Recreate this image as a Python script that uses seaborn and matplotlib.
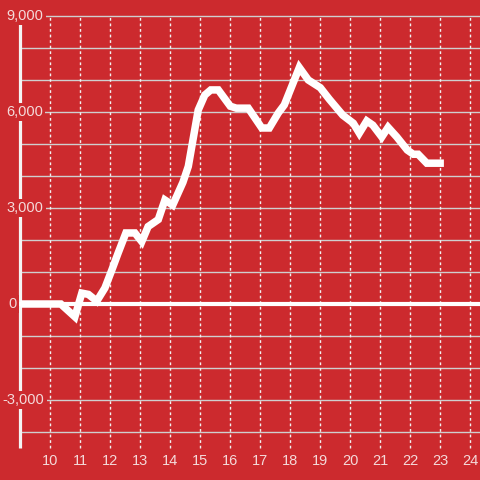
import matplotlib
matplotlib.use("Agg")
import matplotlib.pyplot as plt
import seaborn as sns
import pandas as pd

# ---- data ----
hours = [9.0, 10.35, 10.82, 11.05, 11.27, 11.55, 11.82, 12.05, 12.26, 12.52, 12.82,
         13.05, 13.26, 13.6, 13.82, 14.08, 14.42, 14.6, 14.93, 15.15, 15.35, 15.6,
         16.0, 16.2, 16.6, 17.05, 17.3, 17.6, 17.8, 18.3, 18.6, 19.0, 19.3, 19.75,
         20.1, 20.3, 20.55, 20.75, 21.05, 21.26, 21.55, 21.9, 22.1, 22.26, 22.55, 23.12]
values = [0, 0, -400, 340, 300, 90, 500, 1060, 1590, 2220, 2220,
          1950, 2420, 2640, 3250, 3090, 3800, 4300, 6060, 6530, 6690, 6690,
          6180, 6120, 6120, 5500, 5500, 5970, 6220, 7390, 7000, 6760, 6400, 5900,
          5650, 5340, 5720, 5590, 5220, 5520, 5220, 4810, 4680, 4680, 4400, 4400]
x_ticks = list(range(10, 25))
x_labels = [str(t) for t in x_ticks]
y_ticks = [9000, 6000, 3000, 0, -3000]
y_labels = ["9,000", "6,000", "3,000", "0", "-3,000"]
y_grid = list(range(-4000, 10000, 1000))

df = pd.DataFrame({"hour": hours, "value": values})

BG = "#cc2a2e"
TXT = "#f4dada"
plt.rcParams['font.family'] = ['Liberation Sans', 'DejaVu Sans']

fig = plt.figure(figsize=(4.8, 4.8), dpi=100, facecolor=BG)
ax = fig.add_axes([0, 0, 1, 1], facecolor=BG)
x0 = 9 - 20.3 / 30
ax.set_xlim(x0, x0 + 16)
ax.set_ylim(-5500, 9500)
ax.axis("off")

# gridlines
ax.hlines([g for g in y_grid if g != 0], 9, x0 + 16, color="#cfcfcf", lw=1.0, zorder=1)
ax.vlines(x_ticks, -4500, 9000, color="#f2f2f2", lw=1.0, linestyles=(0, (2, 2)), zorder=1)
# y axis spine and zero line
ax.vlines([9], -4500, 9000, color="#f4f4f4", lw=2.3, zorder=2)
ax.hlines([0], 8.9, x0 + 16, color="#ffffff", lw=3.0, zorder=2)

sns.lineplot(data=df, x="hour", y="value", ax=ax, color="white", lw=5.4,
             sort=False, zorder=3)
for l in ax.get_lines():
    l.set_solid_joinstyle("miter")
    l.set_solid_capstyle("butt")

# y tick labels with background boxes
label_x = {"9,000": 6.7, "6,000": 6.2, "3,000": 6.7, "0": 8.3, "-3,000": 2.7}
for v, lab in zip(y_ticks, y_labels):
    xp = x0 + label_x[lab] / 30
    ax.text(xp, v, lab, ha="left", va="center", color=TXT, fontsize=10.5,
            zorder=5, bbox=dict(boxstyle="square,pad=0.15", fc=BG, ec="none"))

for t, lab in zip(x_ticks, x_labels):
    ax.text(t, -4906, lab, ha="center", va="center", color=TXT, fontsize=10.5, zorder=5)

fig.savefig("out.png", dpi=100, facecolor=BG)
